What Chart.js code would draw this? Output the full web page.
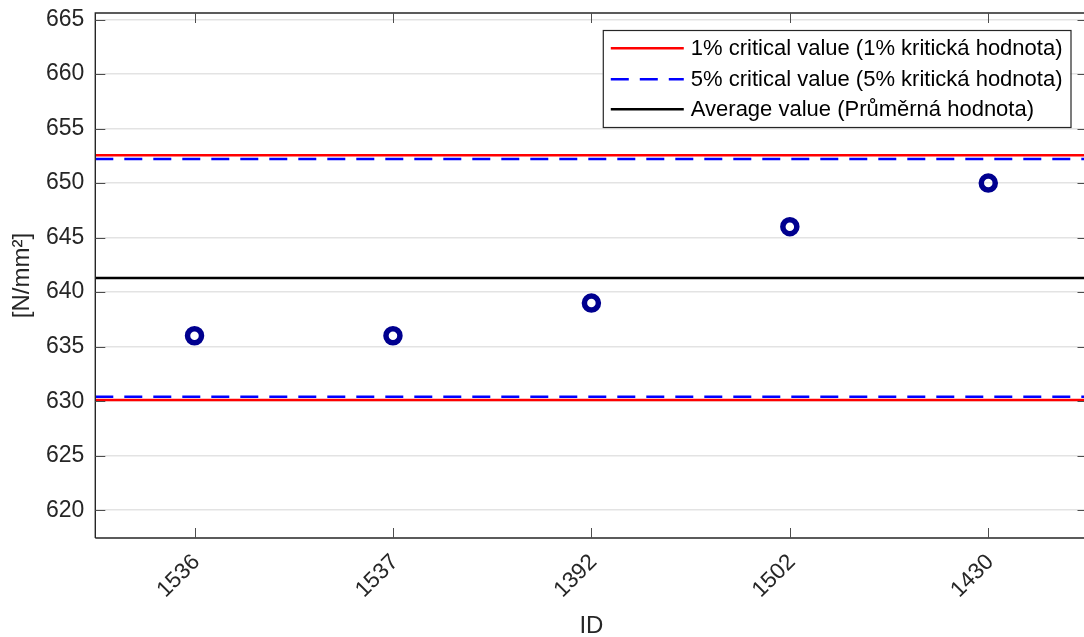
<!DOCTYPE html>
<html><head><meta charset="utf-8">
<script src="https://cdn.jsdelivr.net/npm/chart.js@4/dist/chart.umd.min.js"></script>
<style>
html,body{margin:0;padding:0;background:#fff;overflow:hidden;width:1084px;height:637px}
#wrap{position:absolute;left:0;top:0;width:1100px;height:637px}
</style>
</head><body><div id="wrap"><canvas id="c" width="1100" height="637"></canvas></div>
<script>
// ---- data ----
const ids = ['1536', '1537', '1392', '1502', '1430'];
const values = [636, 636, 639, 646, 650];
const crit1 = [630.1, 652.55];   // 1% critical values (lower, upper)
const crit5 = [630.4, 652.2];    // 5% critical values (lower, upper)
const average = 641.3;
const yTicks = [620, 625, 630, 635, 640, 645, 650, 655, 660, 665];
const xRange = [0.5, 5.5];
const yRange = [617.45, 665.6];
const legendLabels = [
  '1% critical value (1% kritická hodnota)',
  '5% critical value (5% kritická hodnota)',
  'Average value (Průměrná hodnota)'
];
const yTitle = '[N/mm²]';
const xTitle = 'ID';

const FONT = "'Liberation Sans', Arial, Helvetica, sans-serif";
const TXT = '#262626';
const hline = v => [{x: xRange[0], y: v}, {x: xRange[1], y: v}];

const styles = {
  red:   {color: '#ff0000', dash: []},
  blue:  {color: '#0000ff', dash: [18, 11]},
  black: {color: '#000000', dash: []}
};

const lineDs = (v, st) => ({
  type: 'line', data: hline(v), showLine: true, pointRadius: 0,
  borderColor: st.color, borderWidth: 2.5, borderDash: st.dash, fill: false
});

const datasets = [
  {
    type: 'scatter',
    data: values.map((v, i) => ({x: i + 1, y: v})),
    pointRadius: 7, pointBorderWidth: 5.5, borderWidth: 5.5,
    borderColor: '#00008f', backgroundColor: 'rgba(0,0,0,0)',
    pointStyle: 'circle', showLine: false
  },
  lineDs(crit1[1], styles.red), lineDs(crit1[0], styles.red),
  lineDs(crit5[1], styles.blue), lineDs(crit5[0], styles.blue),
  lineDs(average, styles.black)
];

const framePlugin = {
  id: 'frame',
  afterDraw(chart) {
    const ctx = chart.ctx, ca = chart.chartArea;
    const xs = chart.scales.x, ys = chart.scales.y;
    ctx.save();
    // axes box
    ctx.strokeStyle = TXT; ctx.lineWidth = 1.4; ctx.setLineDash([]);
    ctx.beginPath();
    ctx.moveTo(ca.left, ca.bottom); ctx.lineTo(ca.left, ca.top); ctx.lineTo(ca.right, ca.top);
    ctx.lineTo(ca.right, ca.bottom); ctx.lineTo(ca.left, ca.bottom);
    ctx.stroke();
    // inward ticks
    ctx.lineWidth = 1; ctx.strokeStyle = '#4d4d4d';
    ctx.beginPath();
    yTicks.forEach(t => {
      const y = Math.round(ys.getPixelForValue(t)) + 0.5;
      ctx.moveTo(ca.left, y); ctx.lineTo(ca.left + 10, y);
      ctx.moveTo(ca.right, y); ctx.lineTo(ca.right - 10, y);
    });
    ids.forEach((_, i) => {
      const x = Math.round(xs.getPixelForValue(i + 1)) + 0.5;
      ctx.moveTo(x, ca.bottom); ctx.lineTo(x, ca.bottom - 10);
      ctx.moveTo(x, ca.top); ctx.lineTo(x, ca.top + 10);
    });
    ctx.stroke();

    // legend
    ctx.font = '22px ' + FONT;
    const maxW = Math.max(...legendLabels.map(s => ctx.measureText(s).width));
    const lw = 88 + maxW + 8, lh = 97;
    const right = ca.right - 17, top = ca.top + 17, left = right - lw;
    ctx.fillStyle = '#fff';
    ctx.fillRect(left, top, lw, lh);
    ctx.strokeStyle = TXT; ctx.lineWidth = 1.2;
    ctx.strokeRect(left + 0.5, top + 0.5, lw, lh);
    const st = [styles.red, styles.blue, styles.black];
    const rows = [18.3, 49.3, 79.3];
    legendLabels.forEach((lab, i) => {
      const y = top + rows[i];
      ctx.strokeStyle = st[i].color; ctx.lineWidth = 2.5;
      ctx.setLineDash(st[i].dash);
      ctx.beginPath(); ctx.moveTo(left + 8, y); ctx.lineTo(left + 81, y); ctx.stroke();
      ctx.setLineDash([]);
      ctx.fillStyle = '#000'; ctx.textAlign = 'left'; ctx.textBaseline = 'middle';
      ctx.fillText(lab, left + 88, y + 1);
    });
    ctx.restore();
  }
};

new Chart(document.getElementById('c'), {
  type: 'scatter',
  data: {datasets},
  options: {
    responsive: false, animation: false, events: [],
    layout: {padding: {top: 13, right: 8, left: 0, bottom: 0}},
    plugins: {legend: {display: false}, tooltip: {enabled: false}},
    scales: {
      x: {
        type: 'linear', min: xRange[0], max: xRange[1],
        afterBuildTicks: s => { s.ticks = ids.map((_, i) => ({value: i + 1})); },
        afterFit: s => { s.height = 99; s.paddingLeft = 0; s.paddingRight = 0; s.paddingTop = 0; s.paddingBottom = 0; },
        grid: {display: false, drawTicks: false},
        border: {display: false},
        ticks: {
          autoSkip: false, minRotation: 45, maxRotation: 45, padding: 11, labelOffset: 2,
          color: TXT, font: {family: FONT, size: 22.5},
          callback: v => ids[Math.round(v) - 1] ?? ''
        },
        title: {display: true, text: xTitle, color: TXT,
          font: {family: FONT, size: 24, lineHeight: 0.875}, padding: {top: 0, bottom: 0}}
      },
      y: {
        type: 'linear', min: yRange[0], max: yRange[1],
        afterBuildTicks: s => { s.ticks = yTicks.map(v => ({value: v})); },
        afterFit: s => { s.width = 95.3; s.paddingTop = 0; s.paddingBottom = 0; s.paddingLeft = 0; s.paddingRight = 0; },
        grid: {display: true, drawTicks: false, color: '#e3e3e3', lineWidth: 1.5},
        border: {display: false},
        ticks: {padding: 11, color: TXT, font: {family: FONT, size: 23},
          callback: v => String(v)},
        title: {display: true, text: yTitle, color: TXT,
          font: {family: FONT, size: 24, lineHeight: 1}, padding: {top: 10, bottom: 0}}
      }
    }
  },
  plugins: [framePlugin]
});
</script>
</body></html>
